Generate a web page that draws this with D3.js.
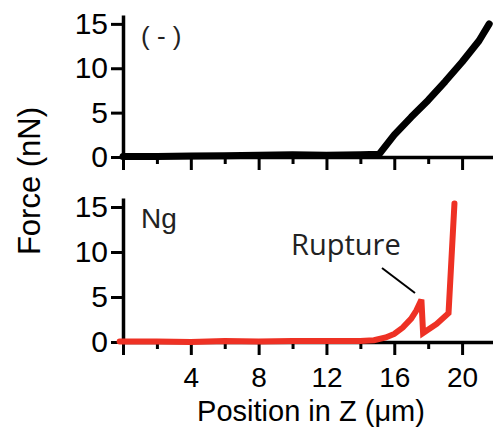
<!DOCTYPE html>
<html>
<head>
<meta charset="utf-8">
<script src="https://cdn.jsdelivr.net/npm/d3@7"></script>
<style>
body { margin: 0; background: #fff; }
svg { display: block; font-family: "Liberation Sans", Arial, sans-serif; }
</style>
</head>
<body>
<svg width="493" height="444"></svg>
<script>
// position in Z (um) and force (nN)
const ctrlZ = [0, 2, 4, 6, 8, 10, 12, 14, 15.1, 16, 17, 18, 19, 20, 21, 21.6];
const ctrlForce = [0.05, 0.05, 0.1, 0.15, 0.2, 0.25, 0.2, 0.25, 0.3, 2.5, 4.5, 6.4, 8.5, 10.7, 13.1, 15.0];

const ngZ = [-0.2, 2, 4, 6, 8, 10, 12, 14, 14.8, 15.5, 16.0, 16.5, 17.0, 17.3, 17.6, 17.7, 18.5, 19.2, 19.55];
const ngForce = [0.05, 0.05, 0, 0.1, 0.05, 0.1, 0.1, 0.1, 0.2, 0.5, 0.9, 1.6, 2.6, 3.5, 4.7, 1.0, 2.0, 3.2, 15.4];

const majorTicks = [0, 4, 8, 12, 16, 20];
const minorTicks = [2, 6, 10, 14, 18];
const forceTicks = [0, 5, 10, 15];

const svg = d3.select('svg');

const x = d3.scaleLinear()
    .domain([0, 22])
    .range([123, 496]);

const panels = [
    { z: ctrlZ, force: ctrlForce, color: '#000000', width: 7, join: 'round', name: '( - )', size: 26, top: 15, bottom: 157, tickLabels: false },
    { z: ngZ, force: ngForce, color: '#ee3124', width: 6, join: 'miter', name: 'Ng', size: 28, top: 198, bottom: 342, tickLabels: true }
];

function styleAxis(g, size) {
    g.selectAll('.domain').attr('stroke', '#000').attr('stroke-width', 3.5);
    g.selectAll('.tick line').attr('stroke', '#000').attr('stroke-width', 3);
    g.selectAll('.tick text')
        .attr('fill', '#000')
        .attr('font-size', size)
        .attr('font-family', '"Liberation Sans", Arial, sans-serif');
}

panels.forEach(function(p) {
    const y = d3.scaleLinear()
        .domain([0, 16])
        .range([p.bottom, p.top]);

    svg.append('g')
        .attr('transform', `translate(${x(0)}, 0)`)
        .call(d3.axisLeft(y).tickValues(forceTicks).tickSize(12).tickSizeOuter(0).tickPadding(3))
        .call(styleAxis, 30);

    svg.append('g')
        .attr('transform', `translate(0, ${p.bottom})`)
        .call(d3.axisBottom(x).tickValues(majorTicks).tickSize(13).tickSizeOuter(0).tickPadding(12)
            .tickFormat((d) => (p.tickLabels && d > 0) ? d : ''))
        .call(styleAxis, 28);

    svg.append('g')
        .attr('transform', `translate(0, ${p.bottom})`)
        .call(d3.axisBottom(x).tickValues(minorTicks).tickSize(7).tickSizeOuter(0).tickFormat(''))
        .call(styleAxis, 28)
        .select('.domain').remove();

    const line = d3.line()
        .x((d, i) => x(p.z[i]))
        .y((d) => y(d));

    svg.append('path')
        .datum(p.force)
        .attr('fill', 'none')
        .attr('stroke', p.color)
        .attr('stroke-width', p.width)
        .attr('stroke-linejoin', p.join)
        .attr('stroke-linecap', 'round')
        .attr('d', line);

    svg.append('text')
        .attr('x', 141)
        .attr('y', p.top + 30)
        .attr('font-size', p.size)
        .attr('fill', '#222')
        .text(p.name);
});

// rupture annotation
svg.append('line')
    .attr('x1', 382).attr('y1', 268)
    .attr('x2', 415).attr('y2', 293)
    .attr('stroke', '#000')
    .attr('stroke-width', 2);

svg.append('text')
    .attr('x', 291)
    .attr('y', 255)
    .attr('font-family', '"Open Sans", sans-serif')
    .attr('font-size', 29)
    .attr('fill', '#222')
    .text('Rupture');

svg.append('text')
    .attr('x', 311)
    .attr('y', 421)
    .attr('text-anchor', 'middle')
    .attr('font-size', 29)
    .text('Position in Z (\u03bcm)');

svg.append('text')
    .attr('transform', 'translate(40, 181) rotate(-90)')
    .attr('text-anchor', 'middle')
    .attr('font-size', 31)
    .text('Force (nN)');
</script>
</body>
</html>
